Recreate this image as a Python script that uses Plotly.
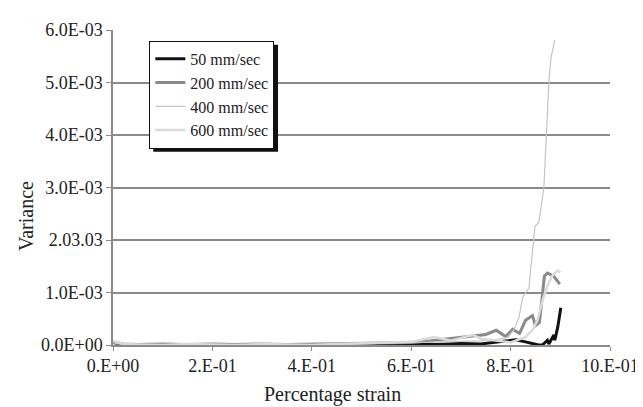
import plotly.graph_objects as go

# ---- data (variance in units of 1E-3) ----
x50 = [0.0, 0.02, 0.05, 0.10, 0.15, 0.20, 0.25, 0.30, 0.35, 0.40, 0.45, 0.50, 0.55, 0.60, 0.65, 0.70,
       0.74, 0.77, 0.79, 0.81, 0.83, 0.845, 0.856, 0.864, 0.874, 0.877, 0.883, 0.887, 0.889, 0.895, 0.901]
y50 = [0.05, 0.01, 0.00, 0.01, 0.00, 0.01, 0.00, 0.01, 0.00, 0.01, 0.00, 0.01, 0.00, 0.02, 0.01, 0.03,
       0.02, 0.05, 0.08, 0.10, 0.06, 0.02, 0.00, 0.00, 0.09, 0.02, 0.12, 0.19, 0.09, 0.35, 0.71]

x200 = [0.0, 0.02, 0.05, 0.10, 0.15, 0.20, 0.25, 0.30, 0.35, 0.40, 0.45, 0.50, 0.55, 0.60, 0.64, 0.68,
        0.72, 0.75, 0.771, 0.79, 0.804, 0.818, 0.83, 0.844, 0.85, 0.858, 0.868, 0.874, 0.887, 0.899]
y200 = [0.06, 0.02, 0.01, 0.02, 0.01, 0.02, 0.01, 0.02, 0.01, 0.02, 0.03, 0.03, 0.04, 0.05, 0.08, 0.12,
        0.17, 0.20, 0.28, 0.16, 0.30, 0.22, 0.47, 0.56, 0.37, 0.43, 1.31, 1.37, 1.31, 1.16]

x400 = [0.0, 0.02, 0.05, 0.10, 0.15, 0.20, 0.25, 0.30, 0.35, 0.40, 0.45, 0.50, 0.55, 0.60, 0.65, 0.70,
        0.74, 0.77, 0.795, 0.807, 0.817, 0.824, 0.837, 0.840, 0.846, 0.849, 0.857, 0.867, 0.872, 0.877, 0.881, 0.889]
y400 = [0.04, 0.01, 0.00, 0.01, 0.00, 0.00, 0.01, 0.00, 0.01, 0.00, 0.01, 0.02, 0.03, 0.04, 0.05, 0.06,
        0.08, 0.10, 0.15, 0.30, 0.53, 0.90, 1.09, 1.40, 2.00, 2.26, 2.34, 3.00, 4.00, 5.00, 5.46, 5.81]

x600 = [0.0, 0.02, 0.05, 0.10, 0.15, 0.20, 0.25, 0.30, 0.35, 0.40, 0.45, 0.50, 0.55, 0.60, 0.646, 0.68,
        0.71, 0.725, 0.74, 0.77, 0.80, 0.83, 0.845, 0.854, 0.864, 0.874, 0.883, 0.895, 0.90]
y600 = [0.08, 0.02, 0.01, 0.00, 0.02, 0.01, 0.00, 0.02, 0.01, 0.00, 0.02, 0.03, 0.04, 0.06, 0.15, 0.08,
        0.16, 0.19, 0.12, 0.08, 0.05, 0.15, 0.30, 0.47, 0.84, 1.12, 1.31, 1.42, 1.38]

series_names = ["50 mm/sec", "200 mm/sec", "400 mm/sec", "600 mm/sec"]

x_tickvals = [0.0, 0.2, 0.4, 0.6, 0.8, 1.0]
x_ticktext = ["0.E+00", "2.E-01", "4.E-01", "6.E-01", "8.E-01", "10.E-01"]
y_tickvals = [0.0, 1.0, 2.0, 3.0, 4.0, 5.0, 6.0]
y_ticktext = ["0.0E+00", "1.0E-03", "2.03.03", "3.0E-03", "4.0E-03", "5.0E-03", "6.0E-03"]

FONT = "Liberation Serif"

# page body has an 8px margin, so the figure sits at (8, 8) in the window
OFF = 8
PL, PR, PT, PB = 113 - OFF, 619 - OFF, 24 - OFF, 345 - OFF   # plot area in figure px
W, H = 643, 407
PW, PH = PR - PL, PB - PT


def px(xp):
    return (xp - OFF - PL) / PW


def py(yp):
    return (PB - (yp - OFF)) / PH


fig = go.Figure()
styles = [("#111111", 3), ("#8a8a8a", 3), ("#c4c4c4", 1.2), ("#dadada", 2.5)]
data = [(x50, y50), (x200, y200), (x400, y400), (x600, y600)]
for i in range(4):
    xs, ys = data[i]
    c, w = styles[i]
    fig.add_trace(go.Scatter(x=xs, y=ys, mode="lines", name=series_names[i],
                             line=dict(color=c, width=w)))

# legend drop shadow
fig.add_shape(type="rect", xref="paper", yref="paper",
              x0=px(154), x1=px(281), y0=py(148), y1=py(39),
              fillcolor="#111111", line=dict(width=0), layer="above")

fig.update_layout(
    width=W, height=H,
    margin=dict(l=PL, r=W - PR, t=PT, b=H - PB),
    paper_bgcolor="white", plot_bgcolor="white",
    font=dict(family=FONT, size=18, color="#222222"),
    showlegend=True,
    legend=dict(x=px(150), y=py(35), xanchor="left", yanchor="top",
                bgcolor="white", bordercolor="#111111", borderwidth=1,
                font=dict(family=FONT, size=16, color="#222222"),
                itemwidth=30, tracegroupgap=0),
    xaxis=dict(range=[0, 1.0], tickvals=x_tickvals, ticktext=x_ticktext,
               showgrid=False, zeroline=False, showline=True, linecolor="#8a8a8a", linewidth=1.5,
               ticks="outside", ticklen=4, tickcolor="#8a8a8a", tickfont=dict(size=18)),
    yaxis=dict(range=[0, 6.0], tickvals=y_tickvals, ticktext=y_ticktext,
               showgrid=True, gridcolor="#8a8a8a", gridwidth=1.5, zeroline=False,
               showline=True, linecolor="#8a8a8a", linewidth=1.5,
               ticks="outside", ticklen=5, tickcolor="#8a8a8a", tickfont=dict(size=18)),
    annotations=[
        dict(text="Percentage strain", xref="paper", yref="paper",
             x=px(336), y=py(395), xanchor="center", yanchor="middle",
             showarrow=False, font=dict(family=FONT, size=20, color="#222222")),
        dict(text="Variance", xref="paper", yref="paper", textangle=-90,
             x=px(25), y=py(214), xanchor="center", yanchor="middle",
             showarrow=False, font=dict(family=FONT, size=20, color="#222222")),
    ],
)

fig.write_html("out.html")
